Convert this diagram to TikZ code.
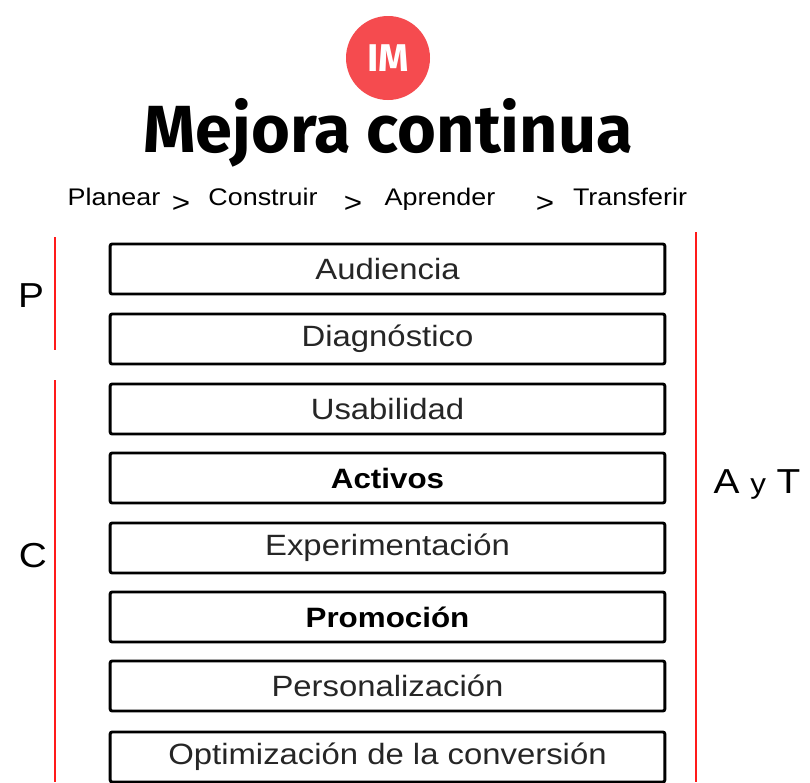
\documentclass[tikz,border=0pt]{standalone}
\usepackage{fontspec}
\setmainfont{Liberation Sans}[FakeStretch=1.12]
\newfontfamily\titlefont{Fira Sans}
\definecolor{imred}{HTML}{F54B4F}
\definecolor{linered}{HTML}{FF1A1A}
\begin{document}
\begin{tikzpicture}[x=0.75pt,y=-0.75pt,
  rowbox/.style={draw=black,line width=2.2pt,rounded corners=1.5pt,minimum width=416pt,minimum height=37.5pt,inner sep=0pt,font=\fontsize{22}{25}\selectfont,text=black!85},
  redline/.style={draw=linered,line width=2pt},
  side/.style={font=\fontsize{26}{30}\selectfont},
  steptext/.style={font=\fontsize{18}{21}\selectfont,anchor=base}]
\useasboundingbox (0,0) rectangle (810,782);
\fill[white] (0,0) rectangle (810,782);
\node[circle,fill=imred,minimum size=63pt,inner sep=0pt,text=white,font=\titlefont\bfseries\fontsize{29}{32}\selectfont] (im) at (388,58) {IM};
\node[font=\titlefont\bfseries\fontsize{50}{55}\selectfont,anchor=base] (title) at (388,152) {Mejora continua};
\node[steptext] (s1) at (114,205) {Planear};
\node[steptext,font=\fontsize{21}{24}\selectfont] (g1) at (181,212) {>};
\node[steptext] (s2) at (263,205) {Construir};
\node[steptext,font=\fontsize{21}{24}\selectfont] (g2) at (353,212) {>};
\node[steptext] (s3) at (440,205) {Aprender};
\node[steptext,font=\fontsize{21}{24}\selectfont] (g3) at (545,212) {>};
\node[steptext] (s4) at (630,205) {Transferir};
\node[rowbox] (b1) at (387.5,269) {Audiencia};
\node[rowbox] (b2) at (387.5,339) {Diagnóstico};
\node[rowbox] (b3) at (387.5,409) {Usabilidad};
\node[rowbox,font=\bfseries\fontsize{21}{25}\selectfont,text=black] (b4) at (387.5,478) {Activos};
\node[rowbox] (b5) at (387.5,548) {Experimentación};
\node[rowbox,font=\bfseries\fontsize{21}{25}\selectfont,text=black] (b6) at (387.5,617) {Promoción};
\node[rowbox] (b7) at (387.5,686) {Personalización};
\node[rowbox] (b8) at (387.5,757) {Optimización de la conversión};
\coordinate (p1) at (55,237);
\coordinate (p2) at (55,350);
\coordinate (c1) at (55,380);
\coordinate (c2) at (55,782);
\coordinate (r1) at (696,232);
\coordinate (r2) at (696,782);
\draw[redline] (p1) -- (p2);
\draw[redline] (c1) -- (c2);
\draw[redline] (r1) -- (r2);
\node[side] (P) at (31,296) {P};
\node[side] (C) at (33,556) {C};
\node[side] (AT) at (757,484) {A {\fontsize{21}{24}\selectfont y} T};
\end{tikzpicture}
\end{document}
